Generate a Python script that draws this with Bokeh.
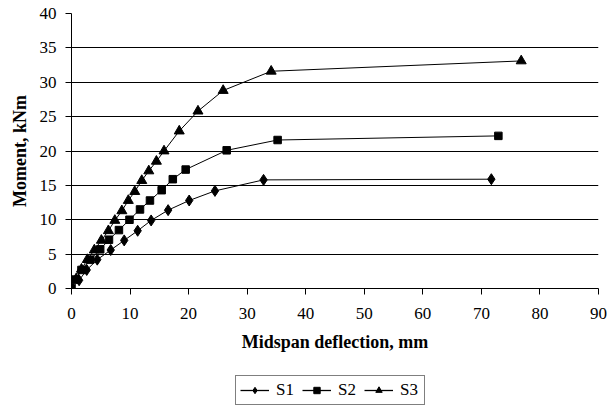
from bokeh.plotting import figure
from bokeh.layouts import column
from bokeh.models import Range1d, SingleIntervalTicker, Legend, LegendItem
from bokeh.embed import file_html
from bokeh.resources import INLINE

# Data
s1_x = [0, 1.3, 2.6, 4.4, 6.7, 9.0, 11.3, 13.6, 16.5, 20.1, 24.5, 32.8, 71.7]
s1_y = [0, 1.2, 2.7, 4.2, 5.6, 7.0, 8.4, 9.9, 11.4, 12.8, 14.2, 15.8, 15.9]

s2_x = [0, 0.7, 1.7, 3.2, 4.9, 6.4, 8.1, 9.9, 11.7, 13.4, 15.4, 17.3, 19.5, 26.5, 35.2, 72.9]
s2_y = [0, 1.3, 2.7, 4.2, 5.7, 7.1, 8.5, 10.0, 11.5, 12.8, 14.3, 15.9, 17.3, 20.1, 21.6, 22.2]

s3_x = [0, 0.8, 1.7, 2.7, 3.9, 5.1, 6.3, 7.4, 8.6, 9.7, 10.8, 12.0, 13.2, 14.5, 15.8, 18.4, 21.6, 25.9, 34.1, 76.8]
s3_y = [0, 1.4, 2.8, 4.2, 5.6, 7.0, 8.4, 9.9, 11.3, 12.8, 14.1, 15.7, 17.1, 18.5, 20.0, 22.9, 25.8, 28.8, 31.6, 33.1]

series_names = ["S1", "S2", "S3"]
x_ticks_step = 10
y_ticks_step = 5

FONT = "Liberation Serif"
series = [(series_names[0], s1_x, s1_y, "diamond", 11),
          (series_names[1], s2_x, s2_y, "square", 7.5),
          (series_names[2], s3_x, s3_y, "triangle", 10)]

# ---- main chart ----
p = figure(width=614, height=375, x_range=Range1d(0, 90), y_range=Range1d(0, 40),
           output_backend="svg", toolbar_location=None,
           min_border_left=71, min_border_right=16, min_border_top=13, min_border_bottom=87)

p.outline_line_color = None
p.background_fill_color = "white"
p.border_fill_color = "white"

p.xgrid.visible = False
p.ygrid.grid_line_color = "black"
p.ygrid.grid_line_width = 1
p.ygrid.grid_line_alpha = 1

for ax in (p.xaxis[0], p.yaxis[0]):
    ax.axis_line_color = "black"
    ax.major_tick_line_color = "black"
    ax.minor_tick_line_color = None
    ax.major_tick_in = 0
    ax.major_tick_out = 6
    ax.major_label_text_font = FONT
    ax.major_label_text_font_size = "17px"
    ax.major_label_text_color = "black"
    ax.axis_label_text_font = FONT
    ax.axis_label_text_font_style = "bold"
    ax.axis_label_text_font_size = "18px"
    ax.axis_label_text_color = "black"

p.xaxis.ticker = SingleIntervalTicker(interval=x_ticks_step)
p.yaxis.ticker = SingleIntervalTicker(interval=y_ticks_step)
p.xaxis.axis_label = "Midspan deflection, mm"
p.yaxis.axis_label = "Moment, kNm"
p.xaxis.major_label_standoff = 13
p.xaxis.axis_label_standoff = 10
p.yaxis.major_label_standoff = 9
p.yaxis.axis_label_standoff = 7

for name, xs, ys, marker, size in series:
    p.line(xs, ys, line_color="black", line_width=1)
    p.scatter(xs, ys, marker=marker, size=size, fill_color="black", line_color="black")

# ---- legend strip (same series, drawn outside its visible range) ----
lg = figure(width=614, height=32, x_range=Range1d(1000, 1001), y_range=Range1d(1000, 1001),
            output_backend="svg", toolbar_location=None,
            min_border_left=71, min_border_right=16, min_border_top=0, min_border_bottom=0)
lg.axis.visible = False
lg.grid.visible = False
lg.outline_line_color = None
lg.border_fill_color = "white"

items = []
for name, xs, ys, marker, size in series:
    l = lg.line(xs, ys, line_color="black", line_width=1.3)
    s = lg.scatter(xs, ys, marker=marker, size=size, fill_color="black", line_color="black")
    items.append(LegendItem(label=name, renderers=[l, s]))

legend = Legend(items=items, orientation="horizontal", location=(164, 2))
legend.border_line_color = "black"
legend.border_line_width = 1
legend.background_fill_alpha = 1
legend.label_text_font = FONT
legend.label_text_font_size = "17px"
legend.label_text_color = "black"
legend.glyph_width = 29
legend.glyph_height = 16
legend.label_standoff = 7
legend.spacing = 6
legend.padding = 4
legend.margin = 0
lg.add_layout(legend, "center")

layout = column(p, lg, spacing=0)
open("out.html", "w").write(file_html(layout, INLINE))
